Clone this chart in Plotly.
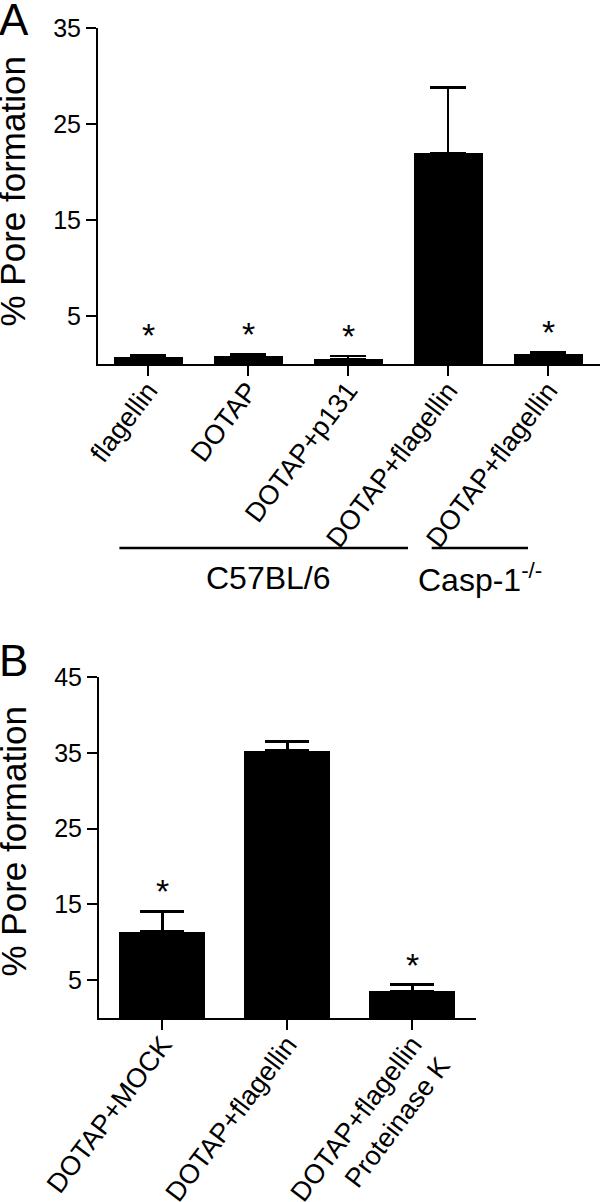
import plotly.graph_objects as go

# ---------------- data ----------------
labels_a = ["flagellin", "DOTAP", "DOTAP+p131", "DOTAP+flagellin", "DOTAP+flagellin"]
mean_a = [0.7, 0.8, 0.5, 22.0, 1.05]
err_a = [0.2, 0.2, 0.35, 6.8, 0.2]
sig_a = [True, True, True, False, True]
ticks_a = [5, 15, 25, 35]

labels_b = ["DOTAP+MOCK", "DOTAP+flagellin", "DOTAP+flagellin<br>Proteinase K"]
mean_b = [11.4, 35.3, 3.5]
err_b = [2.7, 1.15, 0.9]
sig_b = [True, False, True]
ticks_b = [5, 15, 25, 35, 45]

group_names = ["C57BL/6", "Casp-1<sup>-/-</sup>"]

FONT = "Arial, Liberation Sans, sans-serif"
W, H = 600, 1202

def px_x(p):
    return p / W

def px_y(p):
    return 1 - p / H

fig = go.Figure()

xa = list(range(len(labels_a)))
xb = list(range(len(labels_b)))

fig.add_trace(go.Bar(
    x=xa, y=mean_a, width=0.69, marker=dict(color="black", line=dict(width=0)),
    error_y=dict(type="data", array=err_a, arrayminus=[0] * len(err_a), symmetric=False,
                 color="black", thickness=2.5, width=18),
    xaxis="x", yaxis="y", showlegend=False, hoverinfo="skip",
))
fig.add_trace(go.Bar(
    x=xb, y=mean_b, width=0.69, marker=dict(color="black", line=dict(width=0)),
    error_y=dict(type="data", array=err_b, arrayminus=[0] * len(err_b), symmetric=False,
                 color="black", thickness=3, width=22),
    xaxis="x2", yaxis="y2", showlegend=False, hoverinfo="skip",
))

axis_common = dict(showline=True, linecolor="black", linewidth=2, ticks="outside",
                   tickcolor="black", tickwidth=2, ticklen=10, showgrid=False,
                   zeroline=False, fixedrange=True, automargin=False)

fig.update_layout(
    width=W, height=H,
    margin=dict(l=0, r=0, t=0, b=0, pad=0, autoexpand=False),
    paper_bgcolor="white", plot_bgcolor="white",
    font=dict(family=FONT, color="black"),
    xaxis=dict(domain=[px_x(98), 1.0], range=[-0.5, 4.52], anchor="y",
               tickmode="array", tickvals=xa, ticktext=labels_a, tickangle=-53,
               ticklabelstandoff=-12, tickfont=dict(size=27), **axis_common),
    yaxis=dict(domain=[px_y(364), px_y(28)], range=[0, 35], anchor="x",
               tickmode="array", tickvals=ticks_a, tickfont=dict(size=25), **axis_common),
    xaxis2=dict(domain=[px_x(99), px_x(476)], range=[-0.506, 2.51], anchor="y2",
                tickmode="array", tickvals=xb, ticktext=labels_b, tickangle=-53,
                ticklabelstandoff=-12, tickfont=dict(size=27), **axis_common),
    yaxis2=dict(domain=[px_y(1018), px_y(677)], range=[0, 45], anchor="x2",
                tickmode="array", tickvals=ticks_b, tickfont=dict(size=25), **axis_common),
    bargap=0,
)

ann = []
# significance stars
for i, (m, e, s) in enumerate(zip(mean_a, err_a, sig_a)):
    if s:
        ann.append(dict(x=i, y=m + e, xref="x", yref="y", text="*", showarrow=False,
                        yanchor="bottom", yshift=-1, font=dict(size=34, family=FONT)))
for i, (m, e, s) in enumerate(zip(mean_b, err_b, sig_b)):
    if s:
        ann.append(dict(x=i, y=m + e, xref="x2", yref="y2", text="*", showarrow=False,
                        yanchor="bottom", yshift=-1, font=dict(size=34, family=FONT)))

# panel letters
ann.append(dict(x=px_x(-3), y=px_y(20), xref="paper", yref="paper", text="A", showarrow=False,
                xanchor="left", yanchor="middle", font=dict(size=44, family=FONT)))
ann.append(dict(x=px_x(-3), y=px_y(660), xref="paper", yref="paper", text="B", showarrow=False,
                xanchor="left", yanchor="middle", font=dict(size=44, family=FONT)))

# y-axis titles
ann.append(dict(x=px_x(-9), y=px_y(192), xref="paper", yref="paper", text="% Pore formation",
                showarrow=False, textangle=-90, xanchor="left", yanchor="middle",
                font=dict(size=35, family=FONT)))
ann.append(dict(x=px_x(-9), y=px_y(842), xref="paper", yref="paper", text="% Pore formation",
                showarrow=False, textangle=-90, xanchor="left", yanchor="middle",
                font=dict(size=35, family=FONT)))

# group labels under panel A
ann.append(dict(x=1.2, y=px_y(578), xref="x", yref="paper", text=group_names[0],
                showarrow=False, yanchor="middle", font=dict(size=32, family=FONT)))
ann.append(dict(x=3.32, y=px_y(578), xref="x", yref="paper", text=group_names[1],
                showarrow=False, yanchor="middle", font=dict(size=32, family=FONT)))

fig.update_layout(annotations=ann)

fig.add_shape(type="line", xref="x", yref="paper", x0=-0.286, x1=2.6,
              y0=px_y(548), y1=px_y(548), line=dict(color="black", width=2.5))
fig.add_shape(type="line", xref="x", yref="paper", x0=2.837, x1=3.80,
              y0=px_y(548), y1=px_y(548), line=dict(color="black", width=2.5))

fig.write_html("out.html", config={"displayModeBar": False, "staticPlot": True},
               post_script="document.body.style.margin='0';document.body.style.overflow='hidden';")
